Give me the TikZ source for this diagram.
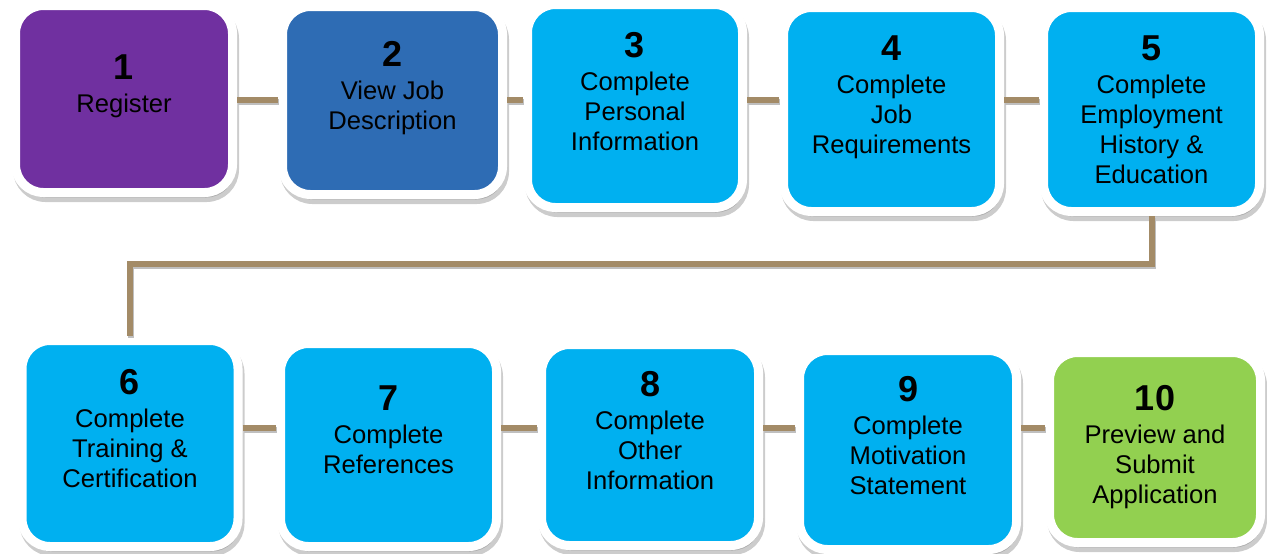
\documentclass[tikz,border=0pt]{standalone}
\usepackage{fontspec}
\setmainfont{Liberation Sans}
\usetikzlibrary{shadows}

\definecolor{regpurple}{RGB}{112,48,160}
\definecolor{jobblue}{RGB}{46,108,180}
\definecolor{stepcyan}{RGB}{0,176,240}
\definecolor{submitgreen}{RGB}{146,208,80}
\definecolor{linktan}{RGB}{163,139,103}

\newcommand{\stepno}[1]{{\fontsize{18}{18}\selectfont\bfseries #1}\\[1.5pt]}

\begin{document}
\begin{tikzpicture}[x=0.5pt, y=-0.5pt,
  stepbox/.style={draw=white, line width=4.5pt, rounded corners=14pt, align=center, inner sep=0pt,
    font=\fontsize{12.8}{15}\selectfont,
    drop shadow={shadow xshift=1pt, shadow yshift=-2.5pt, opacity=.4, fill=black!50, draw=black!50, line width=4.5pt}},
  link/.style={draw=linktan, line width=3pt, preaction={draw=black!25, line width=3pt, transform canvas={xshift=0.5pt, yshift=-1.2pt}}}]
\useasboundingbox (0,0) rectangle (1267,553);
% first row
\node[stepbox, fill=regpurple, minimum width=108.5pt, minimum height=93.5pt] (s1) at (124,99) {\stepno{1}Register\\};
\node[stepbox, fill=jobblue, minimum width=110pt, minimum height=94pt] (s2) at (392.5,100.5) {\stepno{2}View Job\\Description\\};
\node[stepbox, fill=stepcyan, minimum width=107.5pt, minimum height=101.5pt] (s3) at (635,106) {\stepno{3}Complete\\Personal\\Information\\};
\node[stepbox, fill=stepcyan, minimum width=108pt, minimum height=102pt] (s4) at (891.5,109.5) {\stepno{4}Complete\\Job\\Requirements\\};
\node[stepbox, fill=stepcyan, minimum width=108pt, minimum height=102pt] (s5) at (1151.5,109.5) {\stepno{5}Complete\\Employment\\History \&\\Education};
% second row
\node[stepbox, fill=stepcyan, minimum width=108pt, minimum height=103pt] (s6) at (130,443.5) {\stepno{6}Complete\\Training \&\\Certification\\};
\node[stepbox, fill=stepcyan, minimum width=108pt, minimum height=101.5pt] (s7) at (388.5,445) {\stepno{7}Complete\\References\\};
\node[stepbox, fill=stepcyan, minimum width=108.5pt, minimum height=100.5pt] (s8) at (650,445) {\stepno{8}Complete\\Other\\Information\\};
\node[stepbox, fill=stepcyan, minimum width=108.5pt, minimum height=99.5pt] (s9) at (908,450) {\stepno{9}Complete\\Motivation\\Statement\\};
\node[stepbox, fill=submitgreen, minimum width=105.5pt, minimum height=95pt] (s10) at (1155,447.5) {\stepno{10}Preview and\\Submit\\Application};

% connectors
\coordinate (toprow) at (0,100);
\coordinate (botrow) at (0,428);
\coordinate (turn) at (0,264);
\foreach \a/\b in {s1/s2,s2/s3,s3/s4,s4/s5}
  \draw[link] (\a.east |- toprow) -- (\b.west |- toprow);
\foreach \a/\b in {s6/s7,s7/s8,s8/s9,s9/s10}
  \draw[link] (\a.east |- botrow) -- (\b.west |- botrow);
\draw[link] (s5.south) -- (s5.south |- turn) -| (s6.north);
\end{tikzpicture}
\end{document}
